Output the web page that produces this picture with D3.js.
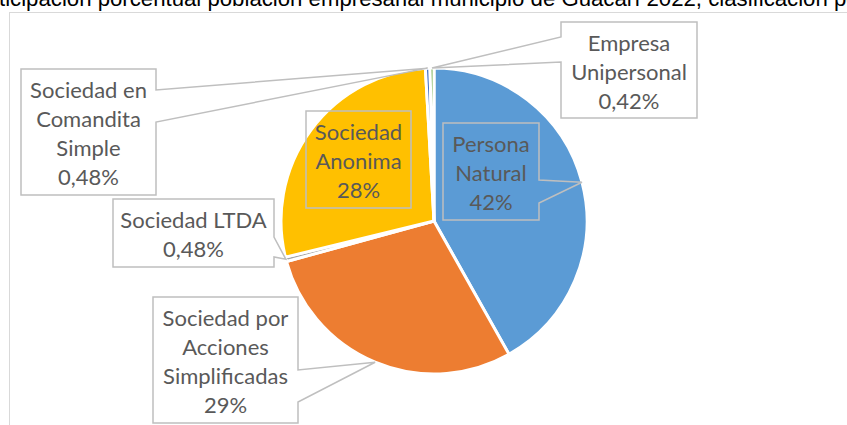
<!DOCTYPE html>
<html>
<head>
<meta charset="utf-8">
<script src="https://cdn.jsdelivr.net/npm/d3@7"></script>
<style>
  html, body { margin: 0; padding: 0; background: #fff; overflow: hidden; }
  svg { display: block; }
</style>
</head>
<body>
<svg id="chart" width="847" height="425"></svg>
<script>
// ---- data ----
const titleText = "Participación porcentual población empresarial municipio de Guacarí 2022, clasificación por tipo de organización";
const categories = ["Persona Natural", "Sociedad por Acciones Simplificadas", "Sociedad LTDA", "Sociedad Anonima", "Sociedad en Comandita Simple", "Empresa Unipersonal"];
const values = [42, 29, 0.48, 28, 0.48, 0.42];
const valueLabels = ["42%", "29%", "0,48%", "28%", "0,48%", "0,42%"];
const colors = ["#5B9BD5", "#ED7D31", "#A5A5A5", "#FFC000", "#4472C4", "#70AD47"];

// ---- layout (label boxes, not data) ----
const labelLayout = [
  { lines: ["Persona", "Natural"], box: [443, 123, 539, 220], side: "right", wedge: [180, 203] },
  { lines: ["Sociedad por", "Acciones", "Simplificadas"], box: [153, 297, 298, 423], side: "right", wedge: [370, 402] },
  { lines: ["Sociedad LTDA"], box: [113, 199, 274, 267], side: "right", wedge: [237, 257] },
  { lines: ["Sociedad", "Anonima"], box: [306, 111, 411, 208], side: null },
  { lines: ["Sociedad en", "Comandita", "Simple"], box: [21, 69, 156, 195], side: "right", wedge: [90, 122] },
  { lines: ["Empresa", "Unipersonal"], box: [561, 22, 697, 118], side: "left", wedge: [37, 62] }
];

const svg = d3.select("#chart");
const cx = 434, cy = 221, R = 153;
const lineH = 29;
const font = "Lato, 'Open Sans', sans-serif";
const titleFont = "'Liberation Sans', Arial, sans-serif";
const titleSize = 22.2;

// title (cropped at top in the reference)
const tt = svg.append("text")
  .attr("y", 5.5)
  .attr("font-family", titleFont)
  .attr("font-size", titleSize)
  .attr("fill", "#000")
  .text(titleText);
const probe = svg.append("text")
  .attr("font-family", titleFont)
  .attr("font-size", titleSize)
  .text("Par");
const preW = probe.node().getComputedTextLength();
probe.remove();
tt.attr("x", -preW - 1);

// chart frame
svg.append("rect")
  .attr("x", 9.5).attr("y", 12.5)
  .attr("width", 1000).attr("height", 600)
  .attr("fill", "none")
  .attr("stroke", "#d9d9d9")
  .attr("stroke-width", 1);

const data = categories.map((c, i) => ({ name: c, value: values[i], label: valueLabels[i], color: colors[i], layout: labelLayout[i] }));

const pie = d3.pie().value(d => d.value).sort(null).startAngle(0).endAngle(2 * Math.PI);
const arcs = pie(data);
const arc = d3.arc().innerRadius(0).outerRadius(R);

const g = svg.append("g").attr("transform", `translate(${cx},${cy})`);
g.selectAll("path.slice")
  .data(arcs)
  .join("path")
  .attr("class", "slice")
  .attr("d", arc)
  .attr("fill", d => d.data.color)
  .attr("stroke", "#fff")
  .attr("stroke-width", 3)
  .attr("stroke-linejoin", "round");

// labels with callouts
const edgeArc = d3.arc().innerRadius(R).outerRadius(R);
arcs.forEach(a => {
  const L = a.data.layout;
  const [x0, y0, x1, y1] = L.box;
  const c = edgeArc.centroid(a);
  const px = cx + c[0], py = cy + c[1];
  let pts;
  if (L.side === "right") {
    pts = [[x0, y0], [x1, y0], [x1, L.wedge[0]], [px, py], [x1, L.wedge[1]], [x1, y1], [x0, y1]];
  } else if (L.side === "left") {
    pts = [[x0, y0], [x1, y0], [x1, y1], [x0, y1], [x0, L.wedge[1]], [px, py], [x0, L.wedge[0]]];
  } else {
    pts = [[x0, y0], [x1, y0], [x1, y1], [x0, y1]];
  }
  svg.append("path")
    .attr("d", d3.line()(pts) + "Z")
    .attr("fill", "none")
    .attr("stroke", "#bfbfbf")
    .attr("stroke-width", 1.5);

  const lines = L.lines.concat([a.data.label]);
  const midX = (x0 + x1) / 2;
  const midY = (y0 + y1) / 2 + 1.5;
  const t = svg.append("text")
    .attr("font-family", font)
    .attr("font-size", 22)
    .attr("fill", "#595959")
    .attr("text-anchor", "middle");
  lines.forEach((ln, i) => {
    t.append("tspan")
      .attr("x", midX)
      .attr("y", midY + (i - (lines.length - 1) / 2) * lineH + 8)
      .text(ln);
  });
});
</script>
</body>
</html>
